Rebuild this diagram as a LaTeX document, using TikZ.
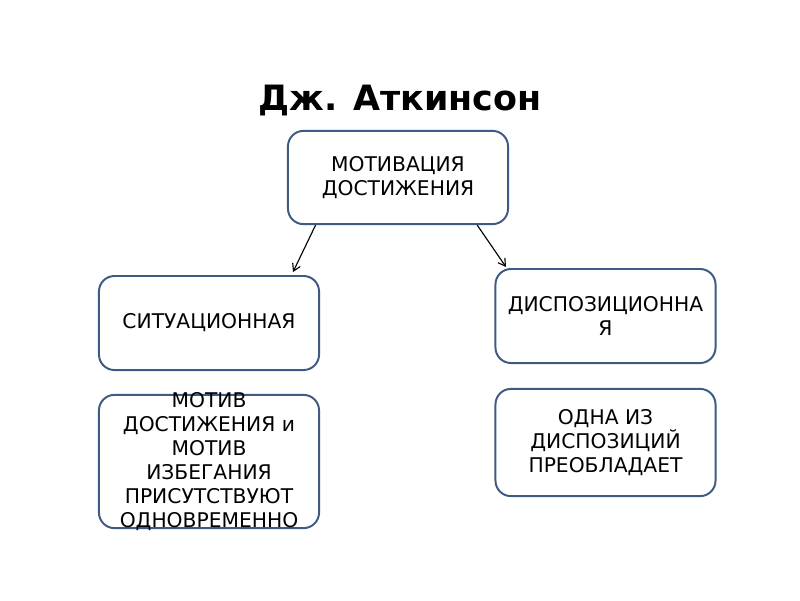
\documentclass[tikz,border=0pt]{standalone}
\usepackage{fontspec}
\setmainfont{DejaVu Sans}
\usepackage{tikz}
\usetikzlibrary{arrows.meta}

\definecolor{ramka}{HTML}{3F5B82}

\begin{document}
\begin{tikzpicture}[x=0.025cm, y=-0.025cm,
  blok/.style={draw=ramka, line width=1.4pt, rounded corners=11pt, fill=white,
    minimum width=5.5cm, minimum height=2.35cm, inner sep=0pt},
  tekst/.style={align=center, font=\fontsize{14.4}{17}\selectfont},
  strelka/.style={-{Straight Barb[length=5pt, width=6pt]}, line width=0.8pt}]
  % Page
  \useasboundingbox[fill=white] (0,0) rectangle (800,600);

  % Title
  \node[font=\bfseries\fontsize{24.8}{30}\selectfont] (zag) at (400,101) {Дж. Аткинсон};

  % Boxes
  \node[blok, minimum height=2.33cm] (mot) at (398,177.5) {};
  \node[blok] (sit) at (209,323) {};
  \node[blok] (disp) at (605.5,316) {};
  \node[blok, minimum height=3.33cm] (oba) at (209,461.5) {};
  \node[blok, minimum height=2.68cm] (odna) at (605.5,442.5) {};

  % Texts
  \node[tekst] (motT) at (mot) {МОТИВАЦИЯ\\ДОСТИЖЕНИЯ};
  \node[tekst] (sitT) at (sit) {СИТУАЦИОННАЯ};
  \node[tekst] (dispT) at (disp) {ДИСПОЗИЦИОННА\\Я};
  \node[tekst] (obaT) at (oba) {МОТИВ\\ДОСТИЖЕНИЯ и\\МОТИВ\\ИЗБЕГАНИЯ\\ПРИСУТСТВУЮТ\\ОДНОВРЕМЕННО};
  \node[tekst] (odnaT) at (odna) {ОДНА ИЗ\\ДИСПОЗИЦИЙ\\ПРЕОБЛАДАЕТ};

  % Arrows
  \coordinate (a1) at (293,272);
  \coordinate (a2) at (506,267);
  \draw[strelka] (mot.210.7) -- (a1);
  \draw[strelka] (mot.-31) -- (a2);
\end{tikzpicture}
\end{document}
